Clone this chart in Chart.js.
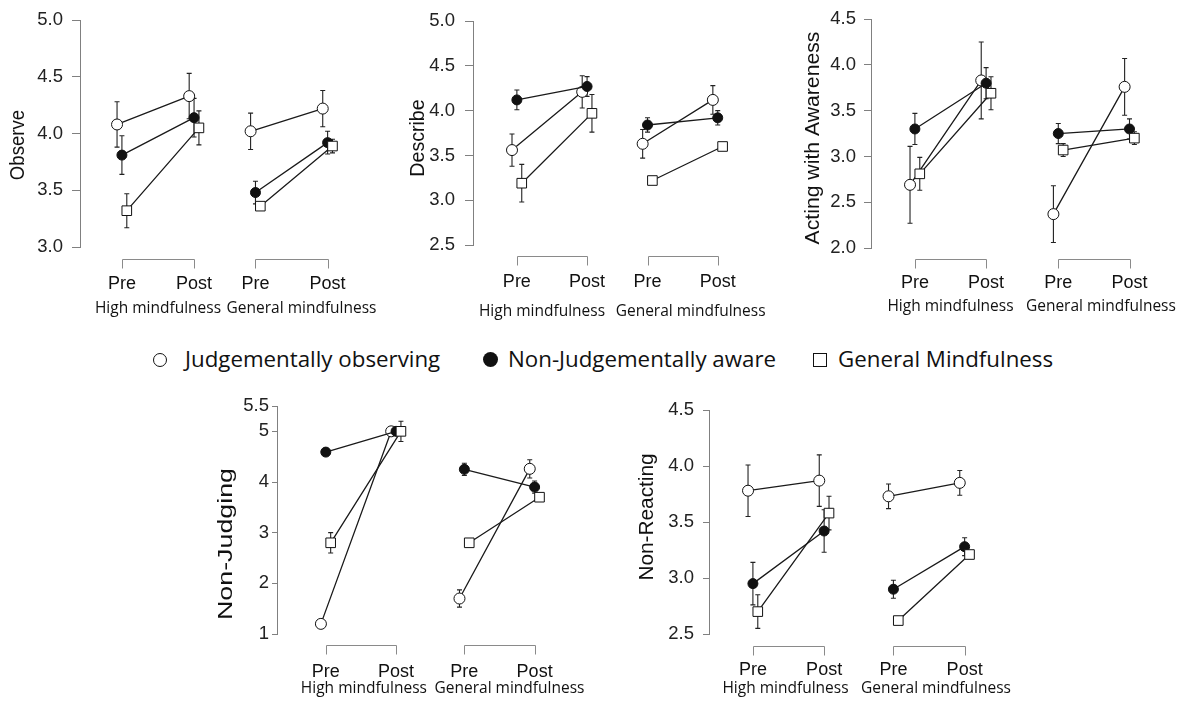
<!DOCTYPE html>
<html>
<head>
<meta charset="utf-8">
<script src="https://cdn.jsdelivr.net/npm/chart.js@4.4.0/dist/chart.umd.min.js"></script>
<style>
  body { margin: 0; background: #fff; width: 1189px; height: 704px; position: relative; overflow: hidden; }
  canvas { position: absolute; }
  .lg { position: absolute; font-family: "Open Sans", sans-serif; font-size: 22.3px; line-height: 21px; color: #111; white-space: nowrap; }
  .sym { position: absolute; box-sizing: border-box; }
</style>
</head>
<body>

<div class="sym" style="left:153px;top:353px;width:14px;height:14px;border:1.5px solid #111;border-radius:50%;"></div>
<div class="lg" style="left:185px;top:348px;">Judgementally observing</div>
<div class="sym" style="left:483px;top:352px;width:15px;height:15px;background:#111;border-radius:50%;"></div>
<div class="lg" style="left:508px;top:348px;">Non-Judgementally aware</div>
<div class="sym" style="left:813px;top:353px;width:14px;height:14px;border:1px solid #111;"></div>
<div class="lg" style="left:838px;top:348px;">General Mindfulness</div>

<script>
// x categories
const timeLabels = ['Pre', 'Post'];
const groupLabels = ['High mindfulness', 'General mindfulness'];
const seriesNames = ['Judgementally observing', 'Non-Judgementally aware', 'General Mindfulness'];

// values: [High Pre, High Post, General Pre, General Post]
const observeJudg = [4.08, 4.33, 4.02, 4.22];
const observeJudgErr = [0.20, 0.20, 0.16, 0.16];
const observeNonJ = [3.81, 4.14, 3.48, 3.92];
const observeNonJErr = [0.17, 0.17, 0.10, 0.10];
const observeGen = [3.32, 4.05, 3.36, 3.89];
const observeGenErr = [0.15, 0.15, 0.02, 0.06];
const observeTicks = ['3.0', '3.5', '4.0', '4.5', '5.0'];

const describeJudg = [3.56, 4.21, 3.63, 4.12];
const describeJudgErr = [0.18, 0.18, 0.16, 0.16];
const describeNonJ = [4.12, 4.27, 3.84, 3.92];
const describeNonJErr = [0.11, 0.11, 0.08, 0.08];
const describeGen = [3.19, 3.97, 3.22, 3.60];
const describeGenErr = [0.21, 0.21, 0.02, 0.02];
const describeTicks = ['2.5', '3.0', '3.5', '4.0', '4.5', '5.0'];

const actingJudg = [2.69, 3.83, 2.37, 3.76];
const actingJudgErr = [0.42, 0.42, 0.31, 0.31];
const actingNonJ = [3.30, 3.80, 3.25, 3.30];
const actingNonJErr = [0.17, 0.17, 0.11, 0.11];
const actingGen = [2.81, 3.69, 3.07, 3.20];
const actingGenErr = [0.18, 0.18, 0.07, 0.07];
const actingTicks = ['2.0', '2.5', '3.0', '3.5', '4.0', '4.5'];

const judgingJudg = [1.20, 5.00, 1.70, 4.26];
const judgingJudgErr = [0, 0, 0.17, 0.18];
const judgingNonJ = [4.59, 5.00, 4.25, 3.90];
const judgingNonJErr = [0, 0, 0.12, 0.12];
const judgingGen = [2.80, 5.00, 2.80, 3.70];
const judgingGenErr = [0.20, 0.20, 0, 0];
const judgingTicks = ['1', '2', '3', '4', '5', '5.5'];

const reactingJudg = [3.78, 3.87, 3.73, 3.85];
const reactingJudgErr = [0.23, 0.23, 0.11, 0.11];
const reactingNonJ = [2.95, 3.42, 2.90, 3.28];
const reactingNonJErr = [0.19, 0.19, 0.08, 0.08];
const reactingGen = [2.70, 3.58, 2.62, 3.21];
const reactingGenErr = [0.15, 0.15, 0.02, 0.02];
const reactingTicks = ['2.5', '3.0', '3.5', '4.0', '4.5'];

// layout (absolute page pixels)
const panels = [
  { title: 'Observe', series: [observeJudg, observeNonJ, observeGen], errs: [observeJudgErr, observeNonJErr, observeGenErr], ticks: observeTicks,
    box: [0, 0, 390, 330], axisX: 80, top: 17, bottom: 247, preX: 123, genPreX: 260, unit: 74,
    bracketY: 259, timeY: 289, groupY: 313, groupShift: [0, 10], titleX: 18, titleY: 145, stretch: 0.93, tickLen: 8, tickPad: 9 },
  { title: 'Describe', series: [describeJudg, describeNonJ, describeGen], errs: [describeJudgErr, describeNonJErr, describeGenErr], ticks: describeTicks,
    box: [390, 0, 395, 330], axisX: 473, top: 16, bottom: 245, preX: 518, genPreX: 652, unit: 72,
    bracketY: 256, timeY: 287, groupY: 316, groupShift: [-10, 8], titleX: 418, titleY: 138, stretch: 0.98, tickLen: 8, tickPad: 10 },
  { title: 'Acting with Awareness', series: [actingJudg, actingNonJ, actingGen], errs: [actingJudgErr, actingNonJErr, actingGenErr], ticks: actingTicks,
    box: [785, 0, 404, 330], axisX: 871, top: 19, bottom: 248, preX: 916, genPreX: 1063, unit: 73,
    bracketY: 259, timeY: 288, groupY: 311, groupShift: [0, 7], titleX: 813, titleY: 138, stretch: 1.06, tickLen: 7, tickPad: 8 },
  { title: 'Non-Judging', series: [judgingJudg, judgingNonJ, judgingGen], errs: [judgingJudgErr, judgingNonJErr, judgingGenErr], ticks: judgingTicks,
    box: [200, 390, 400, 314], axisX: 277, top: 406, bottom: 634, preX: 327, genPreX: 469, unit: 72,
    bracketY: 645, timeY: 677, groupY: 693, groupShift: [3, 10], titleX: 226, titleY: 544, stretch: 1.34, tickLen: 5, tickPad: 3 },
  { title: 'Non-Reacting', series: [reactingJudg, reactingNonJ, reactingGen], errs: [reactingJudgErr, reactingNonJErr, reactingGenErr], ticks: reactingTicks,
    box: [600, 390, 430, 314], axisX: 709, top: 405, bottom: 634, preX: 754, genPreX: 898, unit: 73,
    bracketY: 646, timeY: 675, groupY: 693, groupShift: [-3, 7], titleX: 647, titleY: 517, stretch: 1.04, tickLen: 6, tickPad: 9 }
];

const jitterPx = [-5, 0, 5];
const pointStyles = ['circle', 'circle', 'rect'];
const pointFills = ['#fff', '#111', '#fff'];
const pointSizes = [5.5, 5, 6.8];
const drawOrder = [3, 2, 1];

const decor = {
  id: 'decor',
  beforeDatasetsDraw(chart) {
    const ctx = chart.ctx, ys = chart.scales.y;
    ctx.save();
    ctx.strokeStyle = '#222';
    ctx.lineWidth = 1.1;
    chart.data.datasets.forEach((ds, di) => {
      const meta = chart.getDatasetMeta(di);
      ds.errors.forEach((e, i) => {
        const p = ds.data[i];
        if (!e || p.y == null) return;
        const x = meta.data[i].x;
        const y1 = ys.getPixelForValue(p.y + e), y2 = ys.getPixelForValue(p.y - e);
        ctx.beginPath();
        ctx.moveTo(x, y1); ctx.lineTo(x, y2);
        ctx.moveTo(x - 2.5, y1); ctx.lineTo(x + 2.5, y1);
        ctx.moveTo(x - 2.5, y2); ctx.lineTo(x + 2.5, y2);
        ctx.stroke();
      });
    });
    ctx.restore();
  },
  afterDraw(chart, args, o) {
    const ctx = chart.ctx, xs = chart.scales.x;
    const xp = o.xPos.map(v => xs.getPixelForValue(v));
    ctx.save();
    [[0, 1], [2, 3]].forEach(([a, b], gi) => {
      const x1 = Math.round(xp[a]) + 0.5, x2 = Math.round(xp[b]) + 0.5, yb = o.bracketY + 0.5;
      ctx.strokeStyle = '#8a8a8a';
      ctx.lineWidth = 1;
      ctx.beginPath();
      ctx.moveTo(x1, yb + 9); ctx.lineTo(x1, yb); ctx.lineTo(x2, yb); ctx.lineTo(x2, yb + 9);
      ctx.stroke();
      ctx.fillStyle = '#111';
      ctx.textAlign = 'center';
      ctx.textBaseline = 'alphabetic';
      ctx.font = '18px "Liberation Sans"';
      ctx.fillText(timeLabels[0], xp[a], o.timeY);
      ctx.fillText(timeLabels[1], xp[b], o.timeY);
      ctx.font = '15.5px "Open Sans"';
      ctx.fillText(groupLabels[gi], (xp[a] + xp[b]) / 2 + o.groupShift[gi], o.groupY);
    });
    ctx.translate(o.titleX, o.titleY);
    ctx.rotate(-Math.PI / 2);
    ctx.scale(o.stretch, 1);
    ctx.font = '20px "Liberation Sans"';
    ctx.textAlign = 'center';
    ctx.textBaseline = 'middle';
    ctx.fillStyle = '#111';
    ctx.fillText(o.title, 0, 0);
    ctx.restore();
  }
};

panels.forEach(p => {
  const [bx, by, bw, bh] = p.box;
  const cv = document.createElement('canvas');
  cv.width = bw; cv.height = bh;
  cv.style.left = bx + 'px'; cv.style.top = by + 'px';
  document.body.appendChild(cv);

  const genX = 1 + (p.genPreX - p.preX) / p.unit;
  const xPos = [1, 2, genX, genX + 1];
  const xMin = 1 - (p.preX - p.axisX) / p.unit;
  const xMax = xMin + (bx + bw - p.axisX) / p.unit;
  const tickVals = p.ticks.map(Number);

  const datasets = p.series.map((vals, si) => {
    const j = jitterPx[si] / p.unit;
    const pts = vals.map((v, i) => ({ x: xPos[i] + j, y: v }));
    pts.splice(2, 0, { x: (xPos[1] + xPos[2]) / 2, y: null });
    const errs = p.errs[si].slice();
    errs.splice(2, 0, null);
    return {
      label: seriesNames[si],
      data: pts,
      errors: errs,
      showLine: true,
      spanGaps: false,
      borderColor: '#1a1a1a',
      borderWidth: 1.3,
      pointStyle: pointStyles[si],
      pointRadius: pointSizes[si],
      pointBackgroundColor: pointFills[si],
      pointBorderColor: '#111',
      pointBorderWidth: 1,
      order: drawOrder[si]
    };
  });

  new Chart(cv, {
    type: 'line',
    data: { datasets },
    options: {
      responsive: false,
      animation: false,
      devicePixelRatio: 1,
      events: [],
      layout: { padding: { left: 0, right: 0, top: p.top - by, bottom: by + bh - p.bottom } },
      scales: {
        x: { type: 'linear', min: xMin, max: xMax, display: false },
        y: {
          type: 'linear',
          min: tickVals[0],
          max: tickVals[tickVals.length - 1],
          afterBuildTicks: s => { s.ticks = tickVals.map(v => ({ value: v })); },
          afterFit: s => { s.width = p.axisX - bx; },
          ticks: {
            callback: (v, i) => p.ticks[i],
            color: '#222',
            padding: p.tickPad,
            font: { family: 'Liberation Sans', size: 18.5 }
          },
          grid: { drawOnChartArea: false, drawTicks: true, tickLength: p.tickLen, color: '#808080', lineWidth: 1 },
          border: { display: true, color: '#808080', width: 1 }
        }
      },
      plugins: {
        legend: { display: false },
        tooltip: { enabled: false },
        decor: {
          xPos, title: p.title, bracketY: p.bracketY - by, timeY: p.timeY - by, groupY: p.groupY - by,
          groupShift: p.groupShift, titleX: p.titleX - bx, titleY: p.titleY - by, stretch: p.stretch
        }
      }
    },
    plugins: [decor]
  });
});
</script>
</body>
</html>
